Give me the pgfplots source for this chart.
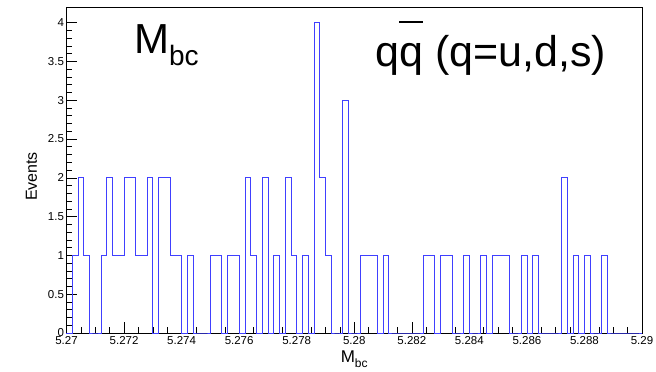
\documentclass[border=0pt]{standalone}
\usepackage{pgfplots}
\pgfplotsset{compat=1.18}
\usepackage{fontspec}
\setmainfont{Liberation Sans}
\definecolor{histblue}{rgb}{0.25,0.25,1}
\pgfplotstableread{
bin val
0 0
1 1
2 2
3 1
4 0
5 0
6 1
7 2
8 1
9 1
10 2
11 2
12 1
13 1
14 2
15 0
16 2
17 2
18 1
19 1
20 0
21 1
22 0
23 0
24 0
25 1
26 1
27 0
28 1
29 1
30 0
31 2
32 1
33 0
34 2
35 0
36 1
37 0
38 2
39 1
40 0
41 1
42 0
43 4
44 2
45 1
46 0
47 0
48 3
49 0
50 0
51 1
52 1
53 1
54 0
55 1
56 0
57 0
58 0
59 0
60 0
61 0
62 1
63 1
64 0
65 1
66 1
67 0
68 0
69 1
70 0
71 0
72 1
73 0
74 1
75 1
76 1
77 0
78 0
79 1
80 0
81 1
82 0
83 0
84 0
85 0
86 2
87 0
88 1
89 0
90 1
91 0
92 0
93 1
94 0
95 0
96 0
97 0
98 0
99 0
100 0
}\histdata
\begin{document}
\begin{tikzpicture}
\useasboundingbox (-66.5pt,-39pt) rectangle (589.5pt,333pt);
\begin{axis}[
  at={(0pt,0pt)}, anchor=south west,
  scale only axis, width=575.5pt, height=326pt,
  xmin=0, xmax=100, ymin=0, ymax=4.2,
  clip=false,
  xtick={0,10,...,100},
  xticklabels={5.27,5.272,5.274,5.276,5.278,5.28,5.282,5.284,5.286,5.288,5.29},
  minor x tick num=3,
  ytick={0,0.5,...,4},
  minor y tick num=4,
  xtick pos=bottom, ytick pos=left, tick align=inside,
  major tick length=11pt, minor tick length=5.5pt,
  tick style={black, line width=0.5pt},
  ticklabel style={font=\fontsize{11.5}{13}\selectfont},
  yticklabel style={xshift=1pt},
  /pgf/number format/assume math mode=true,
  yticklabel style={/pgf/number format/fixed},
  scaled ticks=false,
  axis line style={black, line width=0.6pt},
]
\addplot[const plot, draw=histblue, line width=0.8pt, line join=miter] table[x=bin, y=val] {\histdata};
\node[rotate=90, anchor=base, inner sep=0pt, font=\fontsize{16}{18}\selectfont] at (rel axis cs:-0.0513,0.48) {Events};
\node[anchor=base, inner sep=0pt, font=\fontsize{17}{19}\selectfont] at (rel axis cs:0.5,-0.092) {M\raisebox{-0.28em}{\fontsize{12}{13}\selectfont bc}};
\node[anchor=base west, inner sep=0pt, font=\fontsize{42}{50}\selectfont] at (rel axis cs:0.117,0.858) {M\raisebox{-0.3em}{\fontsize{28}{30}\selectfont bc}};
\node[anchor=base west, inner sep=0pt, font=\fontsize{43}{50}\selectfont] at (rel axis cs:0.5366,0.819) {q\rlap{\raisebox{1.0em}{\rule{0.55em}{0.05em}}}q (q=u,d,s)};
\end{axis}
\end{tikzpicture}
\end{document}
